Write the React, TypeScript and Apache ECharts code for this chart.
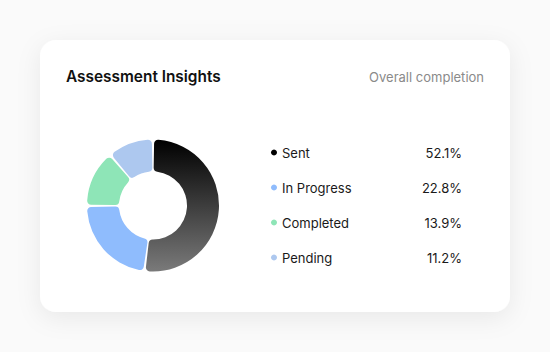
import React, { useEffect, useRef } from "react";
import * as echarts from "echarts";

const categories = ["Sent", "In Progress", "Completed", "Pending"];
const values = [52.1, 22.8, 13.9, 11.2];
const titleText = "Assessment Insights";
const subtitleText = "Overall completion";

export default function App() {
  const ref = useRef<HTMLDivElement>(null);
  useEffect(() => {
    if (!ref.current) return;
    const chart = echarts.init(ref.current, null, { renderer: "svg" });
    const colors = [
      new echarts.graphic.LinearGradient(0, 0, 0, 1, [
        { offset: 0, color: "#000000" },
        { offset: 1, color: "#7a7a7a" },
      ]),
      "#8fbcfd",
      "#8ee5b7",
      "#adc8ef",
    ];
    const legendColors = ["#000000", "#8fbcfd", "#8ee5b7", "#adc8ef"];
    const valMap: Record<string, number> = {};
    categories.forEach((c, i) => (valMap[c] = values[i]));
    chart.setOption({
      animation: false,
      backgroundColor: "#fafafa",
      graphic: [
        {
          type: "rect",
          shape: { x: 40, y: 40, width: 470, height: 272, r: 16 },
          style: {
            fill: "#ffffff",
            shadowBlur: 24,
            shadowColor: "rgba(0,0,0,0.07)",
            shadowOffsetY: 6,
          },
          z: -10,
        },
      ],
      title: [
        {
          text: titleText,
          left: 61,
          top: 64,
          textStyle: {
            fontFamily: "Inter",
            fontSize: 15.4,
            fontWeight: 600,
            color: "#111111",
          },
        },
        {
          text: subtitleText,
          right: 61,
          top: 65,
          textStyle: {
            fontFamily: "Inter",
            fontSize: 13,
            fontWeight: 400,
            color: "#8a8a8a",
          },
        },
      ],
      legend: {
        orient: "vertical",
        left: 266,
        top: 141,
        icon: "circle",
        itemWidth: 6,
        itemHeight: 6,
        itemGap: 22,
        selectedMode: false,
        data: categories.map((c, i) => ({
          name: c,
          itemStyle: { color: legendColors[i] },
        })),
        formatter: (name: string) =>
          `{a|${name}}{b|${valMap[name].toFixed(1)}%}`,
        textStyle: {
          fontFamily: "Inter",
          fontSize: 13,
          color: "#1a1a1a",
          rich: {
            a: {
              fontFamily: "Inter",
              fontSize: 13,
              color: "#1a1a1a",
              width: 135,
              lineHeight: 14,
            },
            b: {
              fontFamily: "Inter",
              fontSize: 13,
              color: "#1a1a1a",
              width: 45,
              align: "right",
              lineHeight: 14,
            },
          },
        },
      },
      series: [
        {
          type: "pie",
          center: [153, 205.5],
          radius: [34, 66],
          startAngle: 90,
          clockwise: true,
          padAngle: 2,
          label: { show: false },
          labelLine: { show: false },
          emphasis: { disabled: true },
          itemStyle: { borderRadius: 4 },
          data: categories.map((c, i) => ({
            name: c,
            value: values[i],
            itemStyle: { color: colors[i] },
          })),
        },
      ],
    });
    return () => chart.dispose();
  }, []);
  return (
    <div
      ref={ref}
      style={{ position: "fixed", left: 0, top: 0, width: 550, height: 352 }}
    />
  );
}
